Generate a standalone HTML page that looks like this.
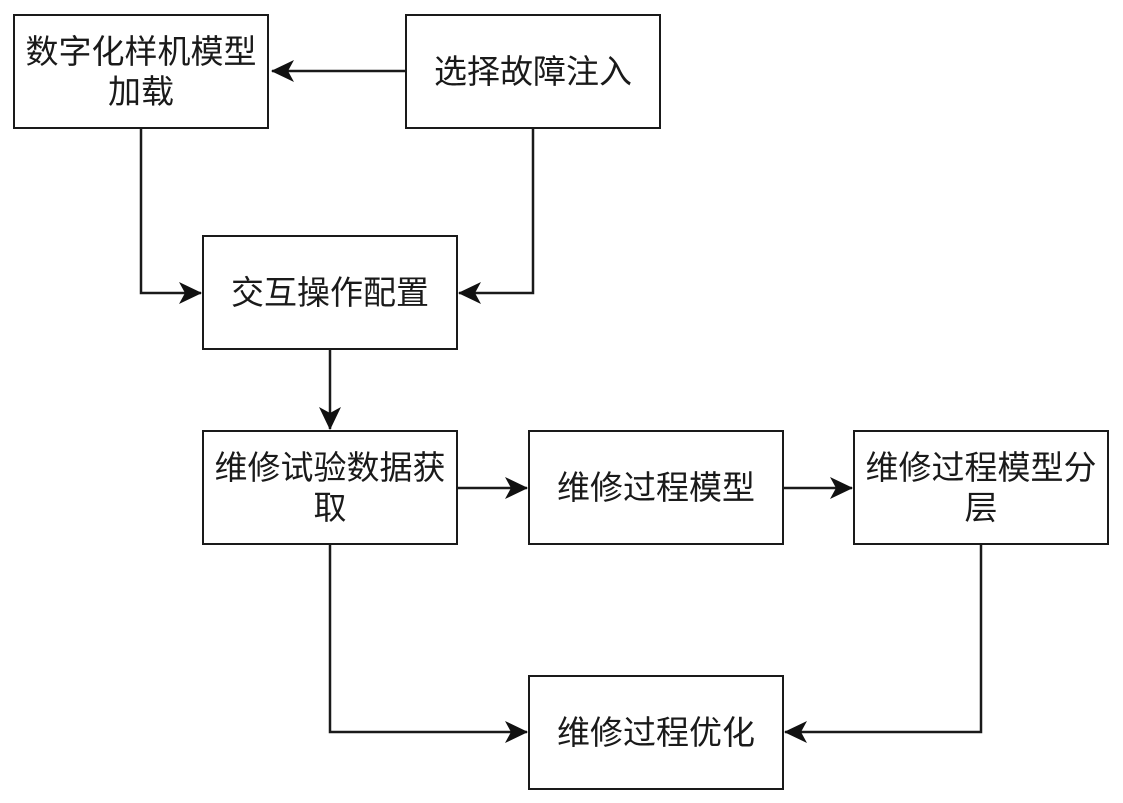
<!DOCTYPE html>
<html><head><meta charset="utf-8"><style>
body{margin:0;background:#fff;width:1123px;height:803px;position:relative;overflow:hidden;font-family:"Liberation Sans","Noto Sans CJK SC",sans-serif;}
.b{position:absolute;box-sizing:border-box;border:2px solid #1a1a1a;display:flex;align-items:center;justify-content:center;text-align:center;font-size:33px;line-height:40px;color:#1a1a1a;padding:0;}
svg{position:absolute;left:0;top:0}
</style></head><body>
<svg width="1123" height="803">
<defs><marker id="a" markerWidth="24" markerHeight="22" refX="22" refY="11" orient="auto" markerUnits="userSpaceOnUse"><path d="M0,0 L23,11 L0,22 L6,11 Z" fill="#111"/></marker></defs>
<g stroke="#1a1a1a" stroke-width="2.5" fill="none" marker-end="url(#a)">
<path d="M405,71 H272"/>
<path d="M141,129 V293 H201"/>
<path d="M533,129 V293 H459"/>
<path d="M330,350 V429"/>
<path d="M458,488 H527"/>
<path d="M783,488 H852"/>
<path d="M330,545 V732 H527"/>
<path d="M981,545 V732 H785"/>
</g></svg>
<div class="b" style="left:13px;top:14px;width:256px;height:115px">数字化样机模型<br>加载</div>
<div class="b" style="left:405px;top:14px;width:256px;height:115px">选择故障注入</div>
<div class="b" style="left:202px;top:235px;width:256px;height:115px">交互操作配置</div>
<div class="b" style="left:202px;top:430px;width:256px;height:115px">维修试验数据获<br>取</div>
<div class="b" style="left:528px;top:430px;width:256px;height:115px">维修过程模型</div>
<div class="b" style="left:853px;top:430px;width:256px;height:115px">维修过程模型分<br>层</div>
<div class="b" style="left:528px;top:675px;width:256px;height:115px">维修过程优化</div>
</body></html>
